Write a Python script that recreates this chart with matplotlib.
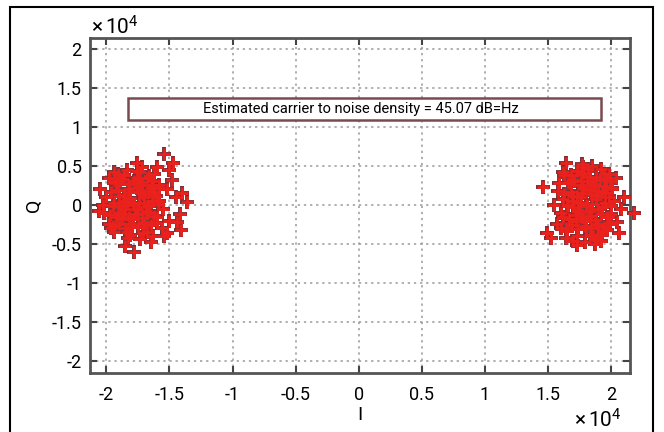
import matplotlib
matplotlib.use("Agg")
import matplotlib.pyplot as plt
from matplotlib.patches import Rectangle
import numpy as np

plt.rcParams['font.family'] = ['Roboto', 'DejaVu Sans']
plt.rcParams['mathtext.fontset'] = 'custom'
plt.rcParams['mathtext.rm'] = 'Roboto'
plt.rcParams['mathtext.it'] = 'Roboto'

# Data values in units of 1e4
SCALE = 1e4
left_I = [-1.78, -1.70, -1.85, -1.75, -1.90, -1.66, -1.82, -1.72, -1.95, -1.88,
          -1.62, -1.60, -1.80, -1.70, -1.92, -1.76, -1.64, -2.00, -2.02, -1.98,
          -1.86, -1.58, -1.55, -1.68, -1.84, -1.94, -1.73, -1.62, -1.52, -1.50,
          -1.56, -1.98, -2.05, -2.06, -1.36, -1.45, -1.42, -1.48, -1.50, -1.60,
          -1.72, -1.84, -1.94, -1.76, -1.81, -1.74, -1.87, -1.69, -1.79, -1.65,
          -1.91, -1.83, -1.73, -1.63, -1.54, -1.54, -1.76, -1.47, -1.85, -1.78,
          -1.65, -1.41, -1.52, -1.40, -1.44, -2.03, -1.96, -1.89, -1.67, -1.58,
          -1.93, -1.88, -1.83, -1.78, -1.73, -1.68, -1.63, -1.58,
          -1.96, -1.91, -1.86, -1.81, -1.76, -1.71, -1.66, -1.61,
          -1.94, -1.89, -1.84, -1.79, -1.74, -1.69, -1.64, -1.59,
          -1.97, -1.92, -1.87, -1.82, -1.77, -1.72, -1.67, -1.62,
          -1.95, -1.90, -1.85, -1.80, -1.75, -1.70, -1.65, -1.60,
          -1.91, -1.86, -1.81, -1.76, -1.71, -1.66]
left_Q = [0.03, 0.10, -0.05, -0.12, 0.12, -0.02, 0.20, 0.25, -0.02, -0.18,
          0.15, -0.15, -0.28, -0.25, 0.28, 0.35, 0.30, 0.10, -0.10, -0.25,
          0.38, 0.05, -0.05, -0.35, -0.35, -0.35, 0.42, 0.40, 0.20, -0.20,
          -0.30, 0.35, 0.20, -0.08, 0.04, 0.10, -0.12, 0.32, 0.45, 0.48,
          0.48, 0.45, 0.42, -0.05, 0.09, 0.16, 0.05, -0.08, -0.18, 0.22,
          -0.10, -0.42, -0.44, -0.40, -0.40, 0.65, 0.54, 0.54, -0.52, -0.60,
          -0.48, -0.32, -0.36, 0.15, -0.22, 0.00, -0.30, 0.30, 0.00, 0.25,
          0.30, 0.33, 0.27, 0.31, 0.29, 0.34, 0.26, 0.22,
          0.16, 0.19, 0.13, 0.17, 0.21, 0.14, 0.18, 0.12,
          0.02, -0.01, 0.04, 0.00, 0.03, -0.03, 0.05, 0.01,
          -0.13, -0.16, -0.11, -0.15, -0.12, -0.17, -0.10, -0.14,
          -0.27, -0.24, -0.29, -0.25, -0.28, -0.22, -0.26, -0.23,
          0.40, 0.38, -0.38, 0.43, -0.36, 0.37]
right_I = [1.81, 1.88, 1.74, 1.84, 1.70, 1.93, 1.78, 1.87, 1.66, 1.95,
           1.72, 1.98, 1.80, 1.90, 1.68, 1.83, 1.96, 1.62, 1.60, 2.02,
           1.76, 1.91, 2.05, 1.65, 1.86, 1.99, 1.73, 1.94, 1.58, 2.08,
           1.64, 1.82, 1.70, 1.92, 2.10, 1.57, 1.62, 1.79, 2.04, 1.88,
           1.46, 1.49, 1.73, 1.64, 2.18, 1.77, 1.85, 1.69, 1.97, 1.55,
           1.75, 1.90, 2.00, 1.67, 1.84, 1.60, 1.94, 1.80, 1.71, 2.06,
           1.59, 1.98, 1.83, 1.76, 1.52, 2.01, 1.87, 1.63, 1.92, 1.78,
           1.66, 1.71, 1.76, 1.81, 1.86, 1.91, 1.96, 2.01,
           1.63, 1.68, 1.73, 1.78, 1.83, 1.88, 1.93, 1.98,
           1.65, 1.70, 1.75, 1.80, 1.85, 1.90, 1.95, 2.00,
           1.62, 1.67, 1.72, 1.77, 1.82, 1.87, 1.92, 1.97,
           1.64, 1.69, 1.74, 1.79, 1.84, 1.89, 1.94, 1.99,
           1.68, 1.73, 1.78, 1.83, 1.88, 1.93]
right_Q = [0.00, 0.08, -0.06, -0.14, 0.12, -0.03, 0.22, 0.26, -0.02, 0.15,
           -0.20, -0.16, -0.30, -0.26, 0.30, 0.36, 0.34, 0.08, -0.10, 0.05,
           0.40, -0.38, -0.22, -0.34, -0.40, 0.30, 0.44, 0.40, 0.18, -0.05,
           -0.42, 0.46, -0.46, 0.46, 0.10, -0.25, 0.42, -0.48, 0.35, -0.44,
           0.23, -0.36, -0.51, 0.54, -0.10, 0.52, 0.50, 0.05, -0.32, 0.00,
           -0.10, 0.18, -0.12, -0.18, 0.14, -0.30, 0.24, -0.20, 0.32, -0.36,
           0.28, 0.40, -0.08, 0.10, -0.42, 0.20, -0.50, 0.38, -0.46, 0.48,
           0.28, 0.31, 0.25, 0.30, 0.27, 0.32, 0.24, 0.21,
           0.14, 0.17, 0.11, 0.15, 0.19, 0.12, 0.16, 0.10,
           0.00, -0.03, 0.02, -0.02, 0.01, -0.05, 0.03, -0.01,
           -0.15, -0.18, -0.13, -0.17, -0.14, -0.19, -0.12, -0.16,
           -0.29, -0.26, -0.31, -0.27, -0.30, -0.24, -0.28, -0.25,
           0.38, -0.40, 0.41, -0.38, 0.36, -0.35]

ticks = [-2, -1.5, -1, -0.5, 0, 0.5, 1, 1.5, 2]
tick_labels = ['-2', '-1.5', '-1', '-0.5', '0', '0.5', '1', '1.5', '2']
annotation = 'Estimated carrier to noise density = 45.07 dB=Hz'

fig = plt.figure(figsize=(6.64, 4.32), dpi=100)
ax = fig.add_axes([90/664, 1-373/432, 540/664, 335/432])

I_all = np.array(left_I + right_I) * SCALE
Q_all = np.array(left_Q + right_Q) * SCALE
ax.plot(I_all, Q_all, linestyle='none', marker='+', markersize=9.5,
        markeredgewidth=2.8, color='#7a2c35', zorder=3, clip_on=False)
ax.plot(I_all, Q_all, linestyle='none', marker='+', markersize=9,
        markeredgewidth=2.0, color='#ea211c', zorder=4, clip_on=False)

ax.set_xlim(-2.13e4, 2.15e4)
ax.set_ylim(-2.15e4, 2.135e4)
tv = [t * SCALE for t in ticks]
ax.set_xticks(tv)
ax.set_xticklabels(tick_labels)
ax.set_yticks(tv)
ax.set_yticklabels(tick_labels)
ax.grid(True, linestyle=(0, (1.5, 2.5)), color='#9a9a9a', linewidth=1.1)
ax.set_axisbelow(True)
ax.tick_params(direction='in', length=5, width=1.5, color='#444444',
               top=True, right=True, labelsize=13)
ax.tick_params(axis='x', pad=9)
ax.tick_params(axis='y', pad=6)
for s in ax.spines.values():
    s.set_color('#555555')
    s.set_linewidth(2.0)

# text box
ax.add_patch(Rectangle((-1.826e4, 1.085e4), 3.746e4, 0.28e4, facecolor='white',
                       edgecolor='#7a4a4e', linewidth=1.8, zorder=5))
ax.text(0.02e4, 1.225e4, annotation, ha='center', va='center', fontsize=10.5, zorder=6)

ax.set_xlabel('I', fontsize=14, labelpad=2)
ax.set_ylabel('Q', fontsize=14, labelpad=6)

fig.text(91/664, 1-27/432, r'$\times\,10^4$', fontsize=15, ha='left', va='center')
fig.text(574/664, 1-420/432, r'$\times\,10^4$', fontsize=15, ha='left', va='center')

# outer frame
fig.add_artist(Rectangle((9.5/664, -0.05), (653-9.5)/664, 1.05 - 6.5/432,
                         transform=fig.transFigure, fill=False,
                         edgecolor='black', linewidth=1.5))

fig.savefig('out.png', dpi=100)
